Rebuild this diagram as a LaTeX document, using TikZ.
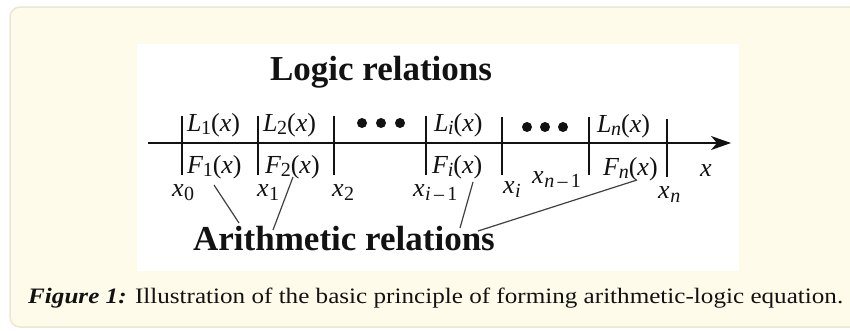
\documentclass[tikz,border=0pt]{standalone}
\usepackage{fontspec}
\setmainfont{Liberation Serif}
\usetikzlibrary{arrows.meta}
\definecolor{panelbg}{RGB}{255,251,234}
\definecolor{panelbd}{RGB}{234,231,214}
\definecolor{ink}{RGB}{18,18,18}
\newcommand\sbsz{\fontsize{20}{20}\selectfont}
\newcommand\fnx[2]{\textit{#1}\kern-0.5pt\raisebox{-3pt}{\sbsz #2}(\textit{x})}
\newcommand\xsb[1]{\textit{x}\kern0.5pt\raisebox{-4pt}{\sbsz #1}}
\begin{document}
\begin{tikzpicture}[x=1pt,y=-1pt,
  lbl/.style={font=\fontsize{26}{26}\selectfont, inner sep=0pt, anchor=base west, text=ink},
  ttl/.style={font=\fontsize{35}{35}\selectfont\bfseries, inner sep=0pt, anchor=base, text=ink},
  captext/.style={font=\fontsize{22}{22}\selectfont, inner sep=0pt, anchor=base west, text=ink},
  tickln/.style={line width=1.4pt, draw=ink},
  conn/.style={line width=1.2pt, draw=black!75},
  dotn/.style={circle, fill=ink, inner sep=0pt, minimum size=10pt}]
\useasboundingbox (0,0) rectangle (850,330);
% panel
\fill[panelbg, draw=panelbd, line width=1.5pt, rounded corners=10pt] (10,7) rectangle (880,327);
\fill[white] (137,44) rectangle (739,271);
% titles
\node[ttl] (logic) at (381,80) {Logic relations};
\node[ttl] (arith) at (344,250) {Arithmetic relations};
% axis
\coordinate (ax0) at (148,143);
\coordinate (ax1) at (731,143);
\draw[line width=1.5pt, draw=ink, -{Stealth[length=20pt,width=14pt,inset=6pt]}] (ax0) -- (ax1);
% ticks
\foreach \n/\xx/\ya/\yb in {t0/182/116/175, t1/258/116/175, t2/334/116/175, t3/426/116/175, t4/502/117/175, t5/589/117/175, t6/667/119/177}{
  \coordinate (\n a) at (\xx,\ya);
  \coordinate (\n b) at (\xx,\yb);
  \draw[tickln] (\n a) -- (\n b);
}
% upper labels
\node[lbl] (L1) at (187,131) {\fnx{L}{1}};
\node[lbl] (L2) at (263,131) {\fnx{L}{2}};
\node[lbl] (Li) at (434,131) {\fnx{L}{\textit{i}}};
\node[lbl] (Ln) at (597,132) {\fnx{L}{\textit{n}}};
% lower labels
\node[lbl] (F1) at (187,173) {\fnx{F}{1}};
\node[lbl] (F2) at (265,173) {\fnx{F}{2}};
\node[lbl] (Fi) at (432,173) {\fnx{F}{\textit{i}}};
\node[lbl] (Fn) at (603,175) {\fnx{F}{\textit{n}}};
% dots
\node[dotn] (d1) at (362,123) {};
\node[dotn] (d2) at (381,123) {};
\node[dotn] (d3) at (400,123) {};
\node[dotn] (d4) at (527,127) {};
\node[dotn] (d5) at (545,127) {};
\node[dotn] (d6) at (563,127) {};
% x labels
\node[lbl] (x0) at (172,196) {\xsb{0}};
\node[lbl] (x1) at (257,196) {\xsb{1}};
\node[lbl] (x2) at (332,196) {\xsb{2}};
\node[lbl] (xim) at (413,196) {\xsb{\textit{i}\,--\,1}};
\node[lbl] (xi) at (503,193) {\xsb{\textit{i}}};
\node[lbl] (xnm) at (532,183) {\xsb{\textit{n}\,--\,1}};
\node[lbl] (xn) at (658,198) {\xsb{\textit{n}}};
\node[lbl] (xx) at (700,176) {\textit{x}};
% connectors
\coordinate (c1a) at (214,185); \coordinate (c1b) at (239,223);
\coordinate (c2a) at (293,177); \coordinate (c2b) at (273,230);
\coordinate (c3a) at (473,182); \coordinate (c3b) at (460,228);
\coordinate (c4a) at (637,180); \coordinate (c4b) at (478,231);
\draw[conn] (c1a) -- (c1b);
\draw[conn] (c2a) -- (c2b);
\draw[conn] (c3a) -- (c3b);
\draw[conn] (c4a) -- (c4b);
% caption
\node[captext] (caption) at (28,303) {\resizebox{815pt}{15.5pt}{\textbf{\textit{Figure 1:}} Illustration of the basic principle of forming arithmetic-logic equation.}};
\end{tikzpicture}
\end{document}
